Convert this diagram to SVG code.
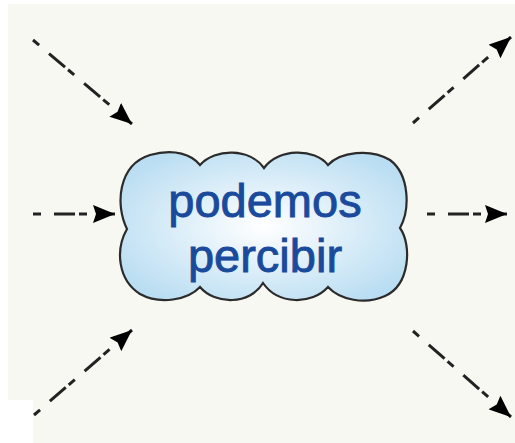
<svg xmlns="http://www.w3.org/2000/svg" width="515" height="443" viewBox="0 0 515 443">
  <style>
    .conn { fill: none; stroke: #222222; stroke-width: 3; stroke-dasharray: 8 13 21 4; }
    .label { font-family: "Liberation Sans", Arial, sans-serif; font-size: 47px; fill: #1a4a9c; stroke: #1a4a9c; stroke-width: 0.9; text-anchor: middle; }
  </style>
  <defs>
    <radialGradient id="cloudGrad" cx="0.5" cy="0.5" r="0.6">
      <stop offset="0" stop-color="#ffffff"/>
      <stop offset="1" stop-color="#b9ddf2"/>
    </radialGradient>
    <marker id="arrow" viewBox="0 0 22 18" refX="22" refY="9" markerWidth="22" markerHeight="18" markerUnits="userSpaceOnUse" orient="auto">
      <path d="M0,0 L22,9 L0,18 L3,9 Z" fill="#000000"/>
    </marker>
  </defs>
  <path d="M8,4 H515 V443 H33 V400 H8 Z" fill="#f6f8f1"/>
  <g id="connectors">
    <path class="conn" d="M33,40 L132,124" marker-end="url(#arrow)"/>
    <path class="conn" d="M33,214 L115,214" marker-end="url(#arrow)"/>
    <path class="conn" d="M34,415 L132,330" marker-end="url(#arrow)"/>
    <path class="conn" d="M413,123 L511,37" marker-end="url(#arrow)"/>
    <path class="conn" d="M427,214 L507,214" marker-end="url(#arrow)"/>
    <path class="conn" d="M413,331 L511,417" marker-end="url(#arrow)"/>
  </g>
  <g id="cloud">
    <path d="M127,229 C115,205 118,165 150,155 C175,148 192,155 200,165 C215,148 250,148 264,168 C278,148 315,148 328,165 C340,152 370,148 390,160 C410,175 410,210 400,228 C412,245 410,285 385,296 C365,305 340,300 328,287 C312,305 278,305 263,283 C250,305 215,305 200,287 C188,300 160,305 140,294 C118,280 115,250 127,229 Z" fill="url(#cloudGrad)" stroke="#2b2b2b" stroke-width="2.2"/>
    <text class="label" x="265" y="217">podemos</text>
    <text class="label" x="265" y="272">percibir</text>
  </g>
</svg>
